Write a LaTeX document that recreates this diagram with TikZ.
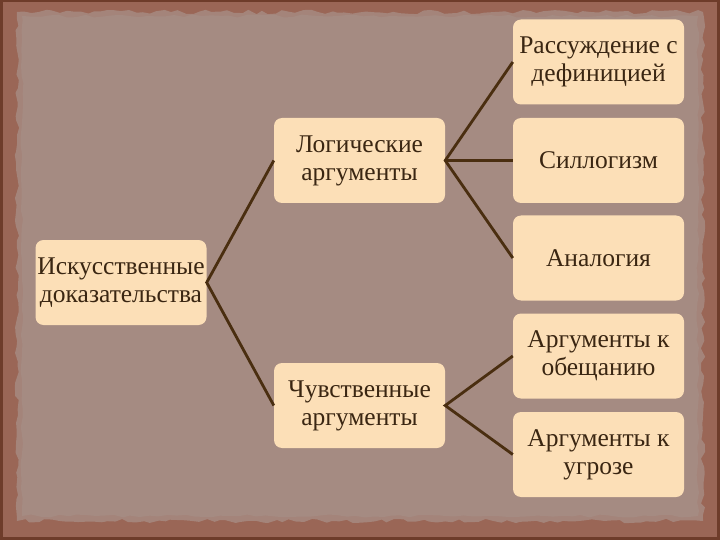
\documentclass[tikz,border=0pt]{standalone}
\usepackage{fontspec}
\setmainfont{Liberation Serif}
\usetikzlibrary{decorations.pathmorphing}
\definecolor{frameout}{HTML}{6E3C2A}
\definecolor{framein}{HTML}{9A6656}
\definecolor{paperedge}{HTML}{A4847A}
\definecolor{paper}{HTML}{A58B82}
\definecolor{boxfill}{HTML}{FCDFB7}
\definecolor{ink}{HTML}{3A2612}
\definecolor{linkc}{HTML}{4A2E10}
\tikzset{
  itembox/.style={draw=none, fill=boxfill, rounded corners=8pt, minimum width=171pt,
    minimum height=85pt, align=center, text=ink, inner sep=1pt,
    font=\fontsize{25.5}{28}\selectfont},
  link/.style={draw=linkc, line width=2.8pt}
}
\begin{document}
\begin{tikzpicture}[x=1pt,y=-1pt]
\useasboundingbox (0,0) rectangle (720,540);
\fill[frameout] (0,0) rectangle (720,540);
\fill[framein] (3,2) rectangle (717,537);
\pgfmathsetseed{7}
\fill[paperedge, decorate, decoration={random steps, segment length=7pt, amplitude=2.2pt}]
  (17,12) -- (703,12) -- (703,521) -- (17,521) -- cycle;
\fill[paper, decorate, decoration={random steps, segment length=9pt, amplitude=1.5pt}]
  (22,16) -- (698,16) -- (698,516) -- (22,516) -- cycle;
\node[itembox] (root) at (121,282.5) {Искусственные\\доказательства};
\node[itembox] (logic) at (359.5,160.5) {Логические\\аргументы};
\node[itembox] (sense) at (359.5,405.5) {Чувственные\\аргументы};
\node[itembox] (r1) at (598.5,62) {Рассуждение с\\дефиницией};
\node[itembox] (r2) at (598.5,160.5) {Силлогизм};
\node[itembox] (r3) at (598.5,258) {Аналогия};
\node[itembox] (r4) at (598.5,356) {Аргументы к\\обещанию};
\node[itembox] (r5) at (598.5,454.5) {Аргументы к\\угрозе};
\draw[link] (logic.west) -- (root.east) -- (sense.west);
\draw[link] (r1.west) -- (logic.east) -- (r3.west);
\draw[link] (logic.east) -- (r2.west);
\draw[link] (r4.west) -- (sense.east) -- (r5.west);
\end{tikzpicture}
\end{document}
